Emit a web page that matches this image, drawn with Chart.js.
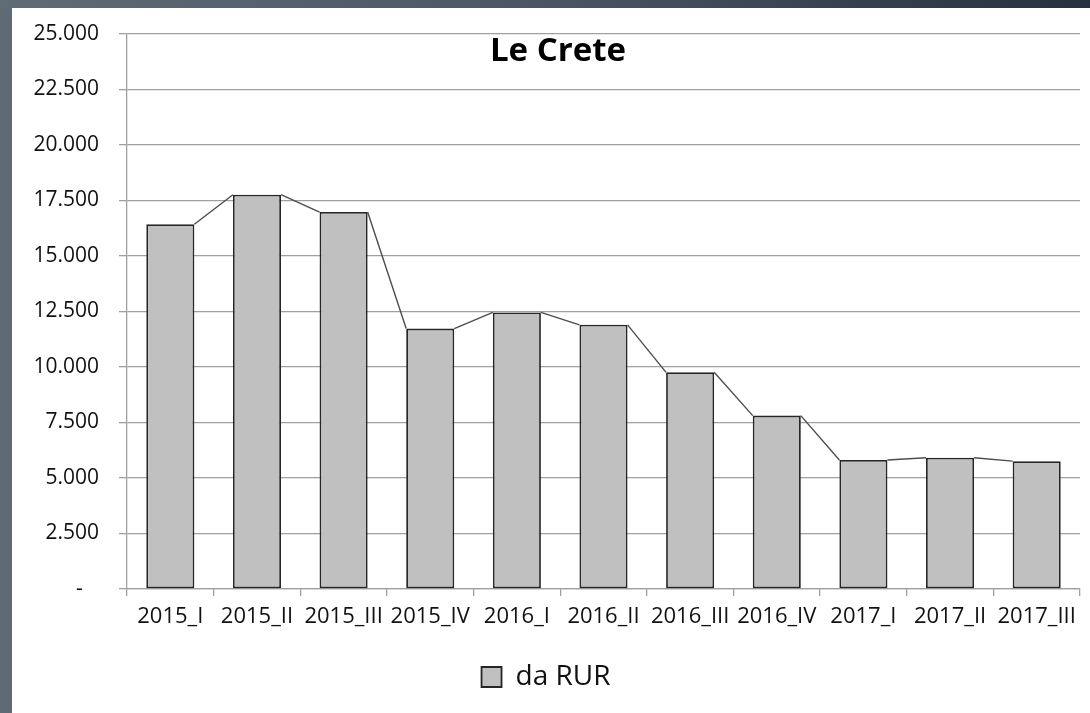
<!DOCTYPE html>
<html>
<head>
<meta charset="utf-8">
<script src="https://cdn.jsdelivr.net/npm/chart.js@4/dist/chart.umd.min.js"></script>
<style>
    html, body { margin: 0; padding: 0; }
    body {
        width: 1090px; height: 713px; overflow: hidden; position: relative;
        background: linear-gradient(to right, #5f6b75 0%, #4a5662 50%, #26313d 100%);
    }
    #panel {
        position: absolute; left: 12px; top: 8px; width: 1078px; height: 705px;
        background: #ffffff;
    }
    #left-band {
        position: absolute; left: 0; top: 8px; width: 12px; height: 705px; background: #5e6a74;
    }
    #title {
        position: absolute; left: 0; width: 1116px; top: 29px; text-align: center;
        font-family: "Open Sans", sans-serif; font-weight: bold; font-size: 33px; line-height: 40px;
        color: #000; pointer-events: none;
    }
</style>
</head>
<body>
<div id="left-band"></div>
<div id="panel">
    <canvas id="le-crete-chart" width="1078" height="705"></canvas>
</div>
<div id="title">Le Crete</div>
<script>
const quarters = ['2015_I', '2015_II', '2015_III', '2015_IV', '2016_I', '2016_II', '2016_III', '2016_IV', '2017_I', '2017_II', '2017_III'];
const daRur = [16430, 17760, 16980, 11730, 12460, 11900, 9760, 7810, 5810, 5910, 5760];
const yTicks = [0, 2500, 5000, 7500, 10000, 12500, 15000, 17500, 20000, 22500, 25000];

const chartCanvas = document.getElementById('le-crete-chart');

function formatThousands(value) {
    if (value === 0) return '-   ';
    return String(value).replace(/\B(?=(\d{3})+(?!\d))/g, '.');
}

// Excel "series lines": join the top corners of neighbouring bars
const seriesLines = {
    id: 'seriesLines',
    afterDatasetsDraw(chart) {
        const bars = chart.getDatasetMeta(0).data;
        const ctx = chart.ctx;
        ctx.save();
        ctx.strokeStyle = '#4d4d4d';
        ctx.lineWidth = 1.4;
        ctx.beginPath();
        for (let i = 0; i < bars.length - 1; i++) {
            const a = bars[i], b = bars[i + 1];
            ctx.moveTo(a.x + a.width / 2, a.y);
            ctx.lineTo(b.x - b.width / 2, b.y);
        }
        ctx.stroke();
        ctx.restore();
    }
};

new Chart(chartCanvas, {
    type: 'bar',
    data: {
        labels: quarters,
        datasets: [{
            label: 'da RUR',
            data: daRur,
            backgroundColor: '#c0c0c0',
            borderColor: '#262626',
            borderWidth: 1.8,
            borderSkipped: false,
            barPercentage: 0.555,
            categoryPercentage: 1
        }]
    },
    options: {
        responsive: false,
        animation: false,
        layout: { padding: { left: 0, right: 10, top: 26, bottom: 12 } },
        plugins: {
            title: { display: false },
            tooltip: { enabled: false },
            legend: {
                position: 'bottom',
                labels: {
                    boxWidth: 20,
                    boxHeight: 20,
                    padding: 10,
                    color: '#111111',
                    font: { family: 'Open Sans', size: 28 }
                }
            }
        },
        scales: {
            x: {
                grid: {
                    offset: true,
                    drawOnChartArea: true,
                    color: ctx => (ctx.index === quarters.length ? '#a0a0a0' : 'transparent'),
                    tickColor: '#a0a0a0',
                    tickLength: 7,
                    lineWidth: 1.3
                },
                border: { color: '#a0a0a0', width: 1.3 },
                ticks: {
                    autoSkip: false,
                    maxRotation: 0,
                    padding: 8,
                    color: '#111111',
                    font: { family: 'Open Sans', size: 22 }
                },
                afterFit: scale => { scale.height = 64; }
            },
            y: {
                min: 0,
                max: 25000,
                afterBuildTicks: scale => { scale.ticks = yTicks.map(v => ({ value: v })); },
                grid: {
                    color: '#a0a0a0',
                    tickColor: '#a0a0a0',
                    tickLength: 8,
                    lineWidth: 1.3
                },
                border: { color: '#a0a0a0', width: 1.3 },
                ticks: {
                    padding: 20,
                    color: '#111111',
                    font: { family: 'Open Sans', size: 21 },
                    callback: value => formatThousands(value)
                },
                afterFit: scale => {
                    scale.width = 115;
                    scale.paddingTop = 12;
                    scale.paddingBottom = 12;
                }
            }
        }
    },
    plugins: [seriesLines]
});
</script>
</body>
</html>
